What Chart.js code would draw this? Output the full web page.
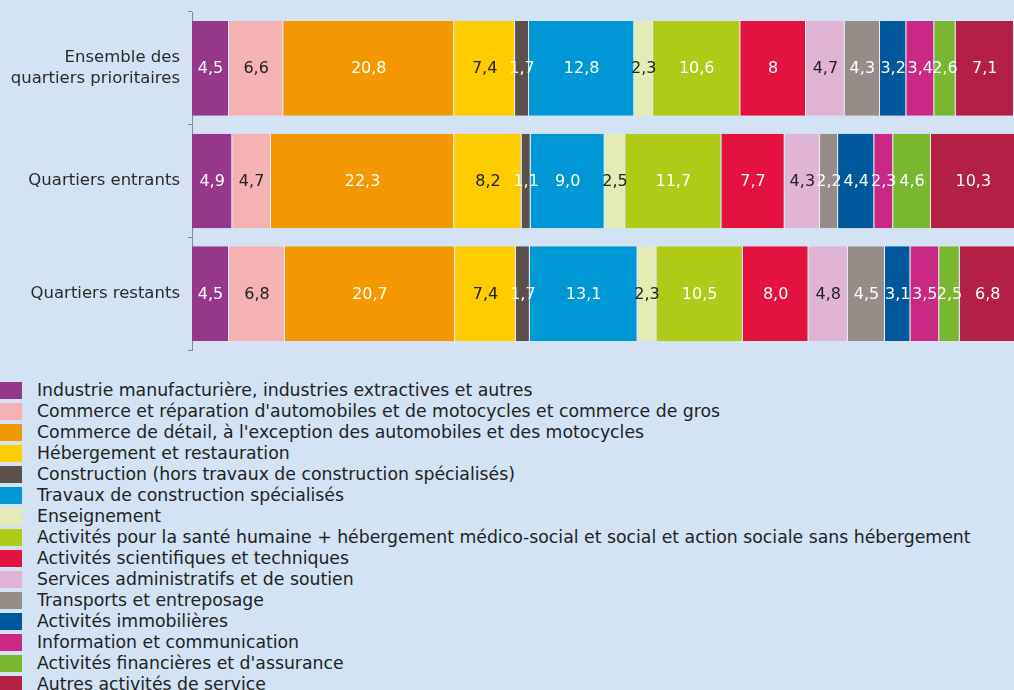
<!DOCTYPE html>
<html>
<head>
<meta charset="utf-8">
<script src="https://cdn.jsdelivr.net/npm/chart.js@4"></script>
<style>
  body { margin: 0; background: #d3e3f4; font-family: "DejaVu Sans", sans-serif; }
  #wrap { position: relative; width: 1014px; height: 690px; overflow: hidden; }
  #box { position: absolute; left: 0; top: 0; width: 1014px; height: 356px; }
  #legend { position: absolute; left: 0; top: 380px; }
  .item { height: 21px; line-height: 21px; font-size: 17.3px; color: #222; white-space: nowrap; }
  .sw { display: inline-block; width: 22px; height: 17px; vertical-align: -3px; margin-right: 15px; }
</style>
</head>
<body>
<div id="wrap">
  <div id="box"><canvas id="myChart"></canvas></div>
  <div id="legend"></div>
</div>
<script>
var categories = [["Ensemble des", "quartiers prioritaires"], "Quartiers entrants", "Quartiers restants"];

var sectors = [
    "Industrie manufacturière, industries extractives et autres",
    "Commerce et réparation d'automobiles et de motocycles et commerce de gros",
    "Commerce de détail, à l'exception des automobiles et des motocycles",
    "Hébergement et restauration",
    "Construction (hors travaux de construction spécialisés)",
    "Travaux de construction spécialisés",
    "Enseignement",
    "Activités pour la santé humaine + hébergement médico-social et social et action sociale sans hébergement",
    "Activités scientifiques et techniques",
    "Services administratifs et de soutien",
    "Transports et entreposage",
    "Activités immobilières",
    "Information et communication",
    "Activités financières et d'assurance",
    "Autres activités de service"
];

// one array per row of the chart, in sector order
var ensemble = [4.5, 6.6, 20.8, 7.4, 1.7, 12.8, 2.3, 10.6, 8, 4.7, 4.3, 3.2, 3.4, 2.6, 7.1];
var entrants = [4.9, 4.7, 22.3, 8.2, 1.1, 9.0, 2.5, 11.7, 7.7, 4.3, 2.2, 4.4, 2.3, 4.6, 10.3];
var restants = [4.5, 6.8, 20.7, 7.4, 1.7, 13.1, 2.3, 10.5, 8.0, 4.8, 4.5, 3.1, 3.5, 2.5, 6.8];

var colors = ['#96378a', '#f5b1b3', '#f39800', '#ffcc00', '#5b504c', '#0097d6', '#e5ebb5',
              '#afca17', '#e4123f', '#e0b5d3', '#968d88', '#00589c', '#c92884', '#78b72f', '#b41f45'];
// sectors whose labels are written in dark text
var darkText = [false, true, false, true, false, false, true, false, false, true, false, false, false, false, false];

var FONT = '"DejaVu Sans", sans-serif';

var datasets = sectors.map(function (name, i) {
    return {
        label: name,
        data: [ensemble[i], entrants[i], restants[i]],
        backgroundColor: colors[i],
        borderColor: 'rgba(255,255,255,0.45)',
        borderWidth: { right: 1, top: 0, bottom: 0, left: 0 },
        borderSkipped: false,
        categoryPercentage: 1,
        barPercentage: 0.84
    };
});

function fmt(v, row) {
    if (row === 0) return String(v).replace('.', ',');
    return v.toFixed(1).replace('.', ',');
}

var barLabels = {
    id: 'barLabels',
    afterDatasetsDraw: function (chart) {
        var ctx = chart.ctx;
        ctx.save();
        ctx.font = '16px ' + FONT;
        ctx.textAlign = 'center';
        ctx.textBaseline = 'middle';
        chart.data.datasets.forEach(function (ds, i) {
            var meta = chart.getDatasetMeta(i);
            meta.data.forEach(function (bar, j) {
                var p = bar.getProps(['x', 'y', 'base'], true);
                ctx.fillStyle = darkText[i] ? '#222' : '#fff';
                ctx.fillText(fmt(ds.data[j], j), (p.x + p.base) / 2, p.y + 1);
            });
        });
        ctx.restore();
    }
};

var ctx = document.getElementById('myChart').getContext('2d');
var myChart = new Chart(ctx, {
    type: 'bar',
    data: { labels: categories, datasets: datasets },
    options: {
        indexAxis: 'y',
        responsive: true,
        maintainAspectRatio: false,
        animation: false,
        layout: { padding: { top: 12, bottom: 6, right: 0, left: 0 } },
        scales: {
            x: { stacked: true, display: false, min: 0, max: 100 },
            y: {
                stacked: true,
                afterFit: function (scale) {
                    scale.width = 192;
                    scale.paddingTop = 0;
                    scale.paddingBottom = 0;
                },
                grid: { drawOnChartArea: false, tickLength: 4, color: '#8a8a8a', offset: true },
                border: { color: '#8a8a8a', width: 1 },
                ticks: {
                    padding: 8,
                    color: '#2a2a2a',
                    font: { family: FONT, size: 16.5, lineHeight: 1.3 }
                }
            }
        },
        plugins: {
            legend: { display: false },
            tooltip: { enabled: false }
        }
    },
    plugins: [barLabels]
});

// legend as plain html, one line per sector
var legend = document.getElementById('legend');
sectors.forEach(function (name, i) {
    var row = document.createElement('div');
    row.className = 'item';
    var sw = document.createElement('span');
    sw.className = 'sw';
    sw.style.background = colors[i];
    row.appendChild(sw);
    row.appendChild(document.createTextNode(name));
    legend.appendChild(row);
});
</script>
</body>
</html>
